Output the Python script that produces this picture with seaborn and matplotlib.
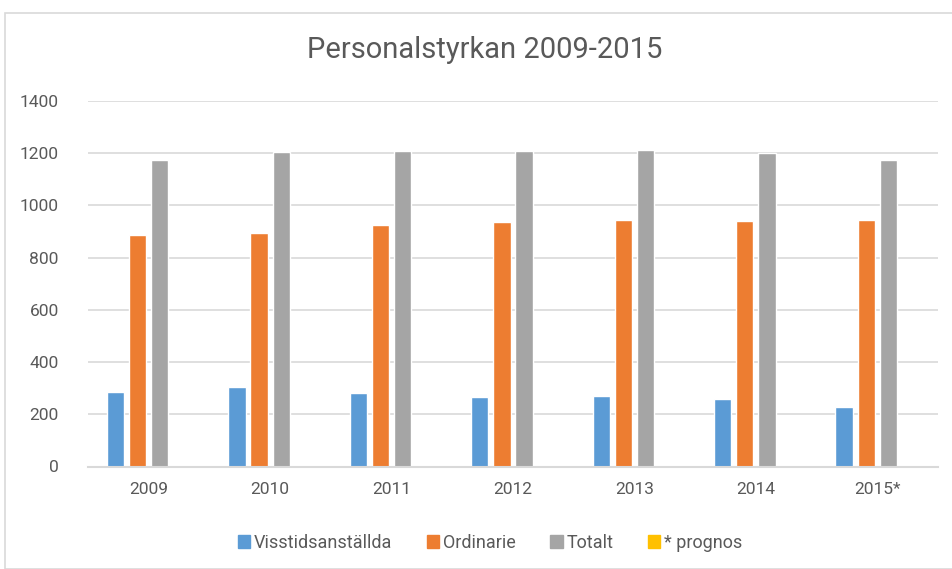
import matplotlib.pyplot as plt
import matplotlib.patches as mpatches
import pandas as pd
import seaborn as sns

years = ["2009", "2010", "2011", "2012", "2013", "2014", "2015*"]
visstid = [284, 305, 283, 267, 270, 257, 228]
ordinarie = [886, 896, 925, 936, 943, 941, 943]
totalt = [1173, 1205, 1210, 1208, 1214, 1201, 1173]
prognos = [0, 0, 0, 0, 0, 0, 0]  # empty series, only shown in the legend

series = ["Visstidsanställda", "Ordinarie", "Totalt", "* prognos"]
colors = ["#5B9BD5", "#ED7D31", "#A5A5A5", "#FFC000"]
text_color = "#595959"

df = pd.DataFrame({
    "year": years * 4,
    "serie": [s for s in series for _ in years],
    "value": visstid + ordinarie + totalt + prognos,
})

sns.set_style("white")
plt.rcParams["font.family"] = ["Roboto", "DejaVu Sans"]

fig = plt.figure(figsize=(9.52, 5.69), dpi=100)
ax = fig.add_axes([88 / 952, 1 - 466.5 / 569, 850 / 952, 365.5 / 569])

sns.barplot(data=df, x="year", y="value", hue="serie", palette=colors,
            width=0.73, gap=0.22, ax=ax, legend=False, saturation=1)

ax.set_ylim(0, 1400)
ax.set_yticks(range(0, 1401, 200))
ax.set_xlim(-0.5, 6.5)
ax.yaxis.grid(True, color="#D9D9D9", linewidth=1.2)
ax.set_axisbelow(True)
for s in ["top", "right", "left"]:
    ax.spines[s].set_visible(False)
ax.spines["bottom"].set_color("#D9D9D9")
ax.spines["bottom"].set_linewidth(1.5)
ax.tick_params(axis="x", length=0, labelsize=12.5, colors=text_color, pad=11)
ax.tick_params(axis="y", length=0, labelsize=12.5, colors=text_color, pad=21)
ax.set_xlabel("")
ax.set_ylabel("")

fig.text(485 / 952, 1 - 50 / 569, "Personalstyrkan 2009-2015", ha="center", va="center",
         fontsize=21, color=text_color)

handles = [mpatches.Patch(color=c) for c in colors]
fig.legend(handles, series, loc="center", bbox_to_anchor=(490 / 952, 1 - 543 / 569), ncol=4,
           frameon=False, fontsize=13, handlelength=0.7, handleheight=0.7,
           handletextpad=0.2, columnspacing=1.9, labelcolor=text_color)

fig.patches.append(mpatches.Rectangle((5 / 952, 0), 1, 1 - 13 / 569, transform=fig.transFigure,
                                      fill=False, edgecolor="#D9D9D9", linewidth=1.2))

fig.savefig("out.png", dpi=100)
